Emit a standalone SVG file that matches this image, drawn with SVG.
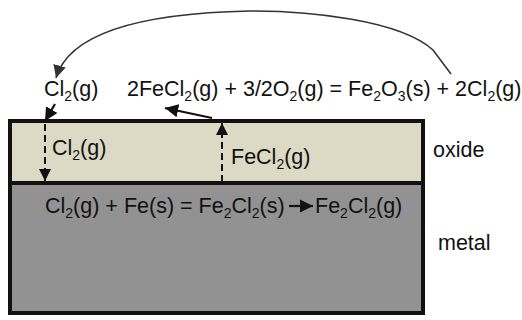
<svg xmlns="http://www.w3.org/2000/svg" width="522" height="320" viewBox="0 0 522 320">
<defs>
<style>
text{font-family:"Liberation Sans",Arial,sans-serif;font-size:21.5px;fill:#111}
.sub{font-size:14px}
.dash{stroke:#111;stroke-width:2;stroke-dasharray:7,4;fill:none}
.solid{stroke:#111;stroke-width:2.2;fill:none}
</style>
<marker id="ah" viewBox="0 0 10 10" refX="10" refY="5" markerWidth="6" markerHeight="6" orient="auto" markerUnits="strokeWidth"><path d="M0,0L10,5L0,10z" fill="#111"/></marker>
<marker id="ahg" viewBox="0 0 10 10" refX="10" refY="5" markerWidth="8" markerHeight="8" orient="auto" markerUnits="strokeWidth"><path d="M0,0L10,5L0,10z" fill="#333"/></marker>
</defs>
<g id="oxide">
<rect x="10" y="121" width="413" height="62" fill="#dcd9c4" stroke="#111" stroke-width="4"/>
</g>
<g id="metal">
<rect x="10" y="183" width="413" height="130" fill="#929292" stroke="#111" stroke-width="4"/>
</g>
<g id="labels">
<text x="433" y="157">oxide</text>
<text x="438" y="250">metal</text>
<text x="44" y="96">Cl<tspan class="sub" dy="5">2</tspan><tspan dy="-5">(g)</tspan></text>
<text x="127" y="96">2FeCl<tspan class="sub" dy="5">2</tspan><tspan dy="-5">(g) + 3/2O</tspan><tspan class="sub" dy="5">2</tspan><tspan dy="-5">(g) = Fe</tspan><tspan class="sub" dy="5">2</tspan><tspan dy="-5">O</tspan><tspan class="sub" dy="5">3</tspan><tspan dy="-5">(s) + 2Cl</tspan><tspan class="sub" dy="5">2</tspan><tspan dy="-5">(g)</tspan></text>
<text x="52" y="155">Cl<tspan class="sub" dy="5">2</tspan><tspan dy="-5">(g)</tspan></text>
<text x="231" y="164">FeCl<tspan class="sub" dy="5">2</tspan><tspan dy="-5">(g)</tspan></text>
<text x="45" y="213">Cl<tspan class="sub" dy="5">2</tspan><tspan dy="-5">(g) + Fe(s) = Fe</tspan><tspan class="sub" dy="5">2</tspan><tspan dy="-5">Cl</tspan><tspan class="sub" dy="5">2</tspan><tspan dy="-5">(s)</tspan></text>
<text x="315" y="213">Fe<tspan class="sub" dy="5">2</tspan><tspan dy="-5">Cl</tspan><tspan class="sub" dy="5">2</tspan><tspan dy="-5">(g)</tspan></text>
</g>
<g id="connectors">
<path d="M451,74 L433,50 C400,20 310,11 250,11 C150,13 70,30 56,78" stroke="#333" stroke-width="1.6" fill="none" marker-end="url(#ahg)"/>
<path class="solid" d="M55,104L45,121" marker-end="url(#ah)"/>
<path class="solid" d="M212,118L165,108" marker-end="url(#ah)"/>
<path class="dash" d="M45,124L45,181" marker-end="url(#ah)"/>
<path class="dash" d="M222,182L222,123" marker-end="url(#ah)"/>
<path class="solid" d="M289,206L313,206" marker-end="url(#ah)"/>
</g>
</svg>
